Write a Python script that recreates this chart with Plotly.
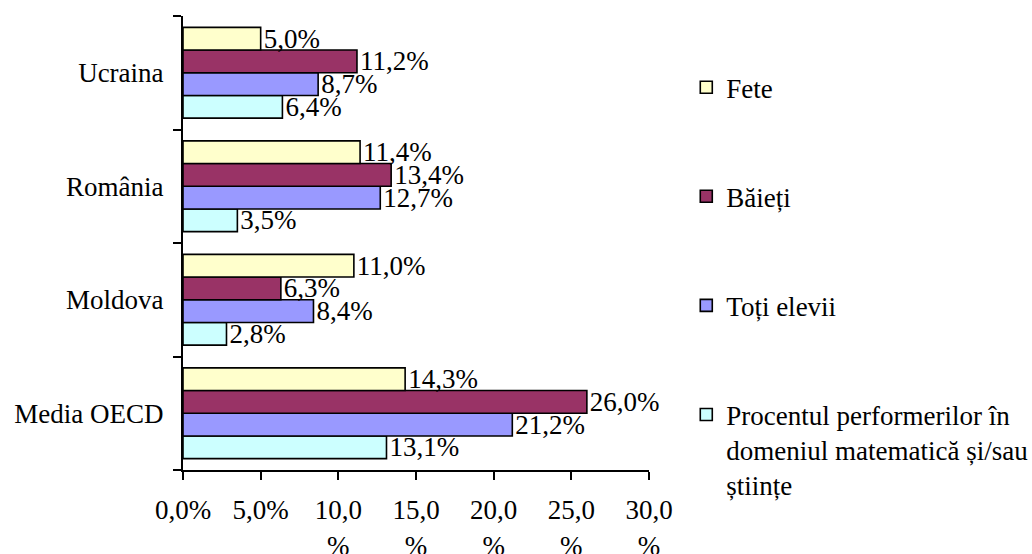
import plotly.graph_objects as go

# Countries, listed bottom to top on the category axis
countries = ["Media OECD", "Moldova", "România", "Ucraina"]

# Percentages per series (same order as countries)
fete = [14.3, 11.0, 11.4, 5.0]
baieti = [26.0, 6.3, 13.4, 11.2]
toti_elevii = [21.2, 8.4, 12.7, 8.7]
performeri = [13.1, 2.8, 3.5, 6.4]

# Traces are added bottom bar first; legend ranks put "Fete" on top
series_names = [
    "Procentul performerilor în<br>domeniul matematică și/sau<br>științe",
    "Toți elevii",
    "Băieți",
    "Fete",
]
series_values = [performeri, toti_elevii, baieti, fete]
series_colors = ["#CCFFFF", "#9999FF", "#993366", "#FFFFCC"]
legend_ranks = [4, 3, 2, 1]

tick_vals = [0, 5, 10, 15, 20, 25, 30]
tick_text = ["0,0%", "5,0%", "10,0<br>%", "15,0<br>%", "20,0<br>%", "25,0<br>%", "30,0<br>%"]

FONT = "Liberation Serif"
FS = 27

fig = go.Figure()
for name, vals, col, rank in zip(series_names, series_values, series_colors, legend_ranks):
    fig.add_trace(go.Bar(
        y=countries,
        x=vals,
        name=name,
        orientation="h",
        legendgroup=name,
        legendrank=rank,
        marker=dict(color=col, line=dict(color="black", width=1.6)),
        texttemplate="%{x:.1f}%",
        textposition="outside",
        constraintext="none",
        cliponaxis=False,
        textfont=dict(family=FONT, size=FS, color="black"),
    ))

fig.update_layout(
    width=1032,
    height=554,
    margin=dict(l=183, r=383, t=16, b=84, autoexpand=False),
    paper_bgcolor="white",
    plot_bgcolor="white",
    separators=",.",
    barmode="group",
    bargap=0.2,
    bargroupgap=0,
    font=dict(family=FONT, size=FS, color="black"),
    legend=dict(
        traceorder="grouped",
        tracegroupgap=71,
        maxheight=540,
        xref="container",
        yref="container",
        x=0.665,
        y=0.886,
        xanchor="left",
        yanchor="top",
        valign="top",
        itemwidth=30,
        bgcolor="rgba(0,0,0,0)",
        font=dict(family=FONT, size=FS, color="black"),
    ),
    xaxis=dict(
        range=[0, 30],
        tickvals=tick_vals,
        ticktext=tick_text,
        automargin=False,
        showgrid=False,
        zeroline=False,
        showline=True,
        linecolor="black",
        linewidth=2,
        ticks="outside",
        ticklen=8,
        tickwidth=2,
        tickcolor="black",
        ticklabelstandoff=7,
        tickfont=dict(family=FONT, size=FS, color="black"),
    ),
    yaxis=dict(
        automargin=False,
        showgrid=False,
        zeroline=False,
        showline=True,
        linecolor="black",
        linewidth=2,
        ticks="outside",
        tickson="boundaries",
        ticklen=8,
        tickwidth=2,
        tickcolor="black",
        ticklabelstandoff=12,
        tickfont=dict(family=FONT, size=FS, color="black"),
    ),
)

fig.write_html("out.html")
